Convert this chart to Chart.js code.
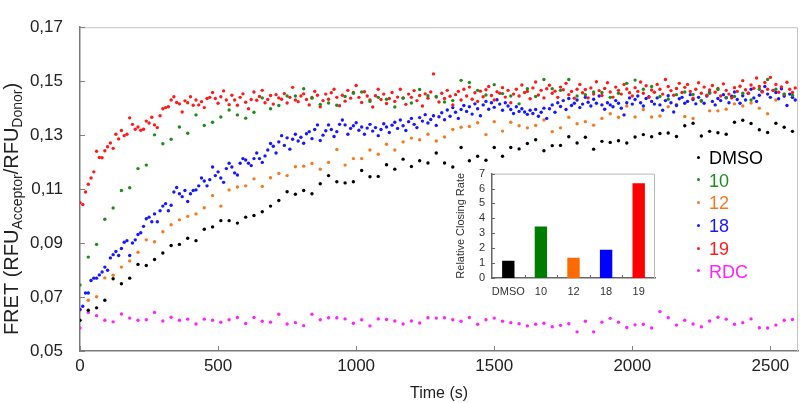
<!DOCTYPE html>
<html>
<head>
<meta charset="utf-8">
<script src="https://cdn.jsdelivr.net/npm/chart.js@4.4.1/dist/chart.umd.min.js"></script>
<style>
  html, body { margin: 0; padding: 0; background: #ffffff; }
  #wrap { position: relative; width: 800px; height: 403px; font-family: "Liberation Sans", Arial, sans-serif; }
  #mainChart { position: absolute; left: 0; top: 0; }
  #insetChart { position: absolute; left: 440px; top: 160px; }
  .lg-row { position: absolute; left: 697px; height: 22px; line-height: 22px; font-size: 18px; white-space: nowrap; }
  .lg-dot { display: inline-block; width: 3px; height: 3px; border-radius: 50%; vertical-align: middle; margin: 0 9px 4px 0; }
</style>
</head>
<body>
<div id="wrap">
  <canvas id="mainChart" width="800" height="403"></canvas>
  <canvas id="insetChart" width="230" height="150"></canvas>
  <div id="legend"></div>
</div>
<script>
// 軸刻度
const xTicks = [0, 500, 1000, 1500, 2000, 2500];
const yTicks = [0.05, 0.07, 0.09, 0.11, 0.13, 0.15, 0.17];

// 每 30 s 量測的系列
const dmso = [
  0.0614, 0.0651, 0.0660, 0.0688, 0.0768, 0.0749, 0.0770, 0.0821, 0.0817, 0.0839,
  0.0863, 0.0891, 0.0895, 0.0918, 0.0909, 0.0951, 0.0960, 0.0983, 0.0983, 0.0974,
  0.0996, 0.1002, 0.1016, 0.1037, 0.1058, 0.1090, 0.1081, 0.1095, 0.1083, 0.1120,
  0.1150, 0.1127, 0.1123, 0.1127, 0.1169, 0.1146, 0.1147, 0.1190, 0.1174, 0.1211,
  0.1184, 0.1205, 0.1197, 0.1234, 0.1197, 0.1182, 0.1254, 0.1205, 0.1222, 0.1207,
  0.1254, 0.1222, 0.1254, 0.1249, 0.1269, 0.1283, 0.1242, 0.1261, 0.1262, 0.1294,
  0.1271, 0.1292, 0.1248, 0.1277, 0.1273, 0.1279, 0.1271, 0.1293, 0.1302, 0.1294,
  0.1306, 0.1308, 0.1295, 0.1335, 0.1344, 0.1297, 0.1314, 0.1309, 0.1303, 0.1348,
  0.1355, 0.1343, 0.1320, 0.1310, 0.1344, 0.1329, 0.1314
];
const cmpd10 = [
  0.0745, 0.0848, 0.0895, 0.0988, 0.1030, 0.1095, 0.1105, 0.1176, 0.1189, 0.1301,
  0.1268, 0.1285, 0.1330, 0.1307, 0.1375, 0.1336, 0.1348, 0.1367, 0.1393, 0.1375,
  0.1363, 0.1385, 0.1438, 0.1398, 0.1410, 0.1445, 0.1445, 0.1472, 0.1437, 0.1414,
  0.1419, 0.1411, 0.1443, 0.1455, 0.1460, 0.1425, 0.1440, 0.1433, 0.1404, 0.1437,
  0.1419, 0.1469, 0.1446, 0.1443, 0.1423, 0.1428, 0.1503, 0.1495, 0.1466, 0.1449,
  0.1487, 0.1454, 0.1445, 0.1416, 0.1472, 0.1443, 0.1506, 0.1472, 0.1466, 0.1506,
  0.1445, 0.1450, 0.1460, 0.1458, 0.1440, 0.1455, 0.1492, 0.1504, 0.1470, 0.1480,
  0.1443, 0.1433, 0.1450, 0.1460, 0.1451, 0.1427, 0.1455, 0.1469, 0.1440, 0.1443,
  0.1455, 0.1430, 0.1470, 0.1506, 0.1470, 0.1452, 0.1448
];
const cmpd12 = [
  0.0652, 0.0688, 0.0701, 0.0771, 0.0781, 0.0811, 0.0834, 0.0866, 0.0912, 0.0905,
  0.0942, 0.0968, 0.0986, 0.0999, 0.1008, 0.1031, 0.1076, 0.1037, 0.1097, 0.1108,
  0.1112, 0.1138, 0.1110, 0.1142, 0.1158, 0.1150, 0.1183, 0.1185, 0.1195, 0.1174,
  0.1199, 0.1247, 0.1189, 0.1213, 0.1213, 0.1245, 0.1229, 0.1266, 0.1245, 0.1275,
  0.1289, 0.1283, 0.1303, 0.1278, 0.1293, 0.1321, 0.1329, 0.1332, 0.1346, 0.1302,
  0.1350, 0.1315, 0.1348, 0.1335, 0.1327, 0.1336, 0.1356, 0.1313, 0.1327, 0.1366,
  0.1342, 0.1350, 0.1337, 0.1362, 0.1379, 0.1366, 0.1408, 0.1367, 0.1395, 0.1367,
  0.1371, 0.1405, 0.1414, 0.1369, 0.1362, 0.1425, 0.1390, 0.1390, 0.1396, 0.1416,
  0.1408, 0.1419, 0.1400, 0.1379, 0.1430, 0.1445, 0.1440
];
const rdc = [
  0.0585, 0.0643, 0.0631, 0.0614, 0.0608, 0.0637, 0.0622, 0.0614, 0.0616, 0.0643,
  0.0611, 0.0625, 0.0614, 0.0618, 0.0600, 0.0618, 0.0614, 0.0607, 0.0616, 0.0624,
  0.0602, 0.0624, 0.0610, 0.0607, 0.0636, 0.0600, 0.0605, 0.0594, 0.0636, 0.0616,
  0.0623, 0.0623, 0.0619, 0.0603, 0.0616, 0.0593, 0.0619, 0.0617, 0.0611, 0.0600,
  0.0611, 0.0604, 0.0623, 0.0622, 0.0623, 0.0616, 0.0610, 0.0624, 0.0599, 0.0616,
  0.0622, 0.0610, 0.0605, 0.0601, 0.0593, 0.0599, 0.0603, 0.0590, 0.0595, 0.0601,
  0.0571, 0.0610, 0.0571, 0.0607, 0.0621, 0.0607, 0.0587, 0.0597, 0.0599, 0.0585,
  0.0646, 0.0623, 0.0596, 0.0614, 0.0600, 0.0590, 0.0611, 0.0625, 0.0618, 0.0599,
  0.0605, 0.0619, 0.0586, 0.0585, 0.0596, 0.0614, 0.0617
];

// 每 10 s 量測的系列
const cmpd18 = [
  0.0654, 0.0666, 0.0715, 0.0715, 0.0761, 0.0770, 0.0770, 0.0782, 0.0793, 0.0811,
  0.0799, 0.0845, 0.0857, 0.0869, 0.0854, 0.0880, 0.0903, 0.0909, 0.0854, 0.0900,
  0.0912, 0.0932, 0.0938, 0.0962, 0.0990, 0.0996, 0.0979, 0.1008, 0.0979, 0.1020,
  0.1037, 0.1046, 0.1020, 0.1040, 0.1089, 0.1106, 0.1083, 0.1072, 0.1095, 0.1054,
  0.1083, 0.1095, 0.1097, 0.1112, 0.1141, 0.1130, 0.1112, 0.1135, 0.1182, 0.1150,
  0.1164, 0.1141, 0.1125, 0.1176, 0.1196, 0.1182, 0.1160, 0.1152, 0.1196, 0.1213,
  0.1208, 0.1196, 0.1187, 0.1213, 0.1234, 0.1213, 0.1199, 0.1223, 0.1245, 0.1269,
  0.1259, 0.1234, 0.1275, 0.1298, 0.1262, 0.1290, 0.1248, 0.1285, 0.1303, 0.1278,
  0.1292, 0.1270, 0.1305, 0.1313, 0.1287, 0.1321, 0.1338, 0.1280, 0.1300, 0.1316,
  0.1338, 0.1321, 0.1295, 0.1313, 0.1340, 0.1356, 0.1338, 0.1303, 0.1325, 0.1335,
  0.1346, 0.1318, 0.1330, 0.1303, 0.1326, 0.1340, 0.1315, 0.1328, 0.1298, 0.1321,
  0.1342, 0.1330, 0.1310, 0.1337, 0.1348, 0.1325, 0.1356, 0.1335, 0.1317, 0.1350,
  0.1362, 0.1340, 0.1328, 0.1365, 0.1352, 0.1376, 0.1345, 0.1358, 0.1372, 0.1336,
  0.1368, 0.1383, 0.1357, 0.1393, 0.1370, 0.1402, 0.1385, 0.1362, 0.1395, 0.1410,
  0.1388, 0.1405, 0.1378, 0.1416, 0.1398, 0.1372, 0.1412, 0.1425, 0.1396, 0.1420,
  0.1403, 0.1431, 0.1415, 0.1392, 0.1420, 0.1408, 0.1395, 0.1380, 0.1405, 0.1388,
  0.1398, 0.1386, 0.1377, 0.1392, 0.1380, 0.1395, 0.1370, 0.1385, 0.1400, 0.1362,
  0.1398, 0.1412, 0.1385, 0.1420, 0.1406, 0.1428, 0.1395, 0.1436, 0.1410, 0.1418,
  0.1430, 0.1402, 0.1415, 0.1440, 0.1422, 0.1408, 0.1433, 0.1418, 0.1445, 0.1412,
  0.1396, 0.1420, 0.1412, 0.1405, 0.1428, 0.1418, 0.1400, 0.1375, 0.1420, 0.1438,
  0.1415, 0.1432, 0.1445, 0.1420, 0.1408, 0.1436, 0.1442, 0.1425, 0.1415, 0.1438,
  0.1412, 0.1392, 0.1428, 0.1446, 0.1420, 0.1386, 0.1410, 0.1435, 0.1440, 0.1418,
  0.1425, 0.1450, 0.1432, 0.1416, 0.1440, 0.1428, 0.1418, 0.1445, 0.1458, 0.1425,
  0.1412, 0.1436, 0.1428, 0.1450, 0.1438, 0.1420, 0.1444, 0.1460, 0.1432, 0.1418,
  0.1446, 0.1430, 0.1455, 0.1470, 0.1438, 0.1425, 0.1448, 0.1462, 0.1480, 0.1452,
  0.1440, 0.1466, 0.1458, 0.1435, 0.1472, 0.1445, 0.1410, 0.1452, 0.1440, 0.1430
];
const cmpd19 = [
  0.1050, 0.1043, 0.1089, 0.1118, 0.1141, 0.1164, 0.1240, 0.1217, 0.1216, 0.1242,
  0.1257, 0.1271, 0.1251, 0.1303, 0.1286, 0.1317, 0.1298, 0.1303, 0.1364, 0.1340,
  0.1322, 0.1330, 0.1318, 0.1322, 0.1352, 0.1345, 0.1366, 0.1338, 0.1328, 0.1372,
  0.1398, 0.1402, 0.1405, 0.1430, 0.1442, 0.1421, 0.1416, 0.1386, 0.1427, 0.1420,
  0.1442, 0.1411, 0.1430, 0.1412, 0.1424, 0.1402, 0.1436, 0.1440, 0.1458, 0.1436,
  0.1418, 0.1442, 0.1464, 0.1430, 0.1413, 0.1448, 0.1430, 0.1411, 0.1440, 0.1453,
  0.1422, 0.1398, 0.1432, 0.1460, 0.1429, 0.1443, 0.1466, 0.1420, 0.1432, 0.1447,
  0.1415, 0.1450, 0.1438, 0.1433, 0.1454, 0.1419, 0.1440, 0.1477, 0.1430, 0.1424,
  0.1445, 0.1453, 0.1432, 0.1412, 0.1440, 0.1462, 0.1448, 0.1405, 0.1428, 0.1452,
  0.1433, 0.1457, 0.1470, 0.1440, 0.1409, 0.1448, 0.1426, 0.1466, 0.1437, 0.1458,
  0.1484, 0.1440, 0.1421, 0.1461, 0.1445, 0.1430, 0.1404, 0.1446, 0.1470, 0.1432,
  0.1452, 0.1417, 0.1436, 0.1458, 0.1425, 0.1441, 0.1470, 0.1438, 0.1414, 0.1452,
  0.1440, 0.1465, 0.1428, 0.1447, 0.1408, 0.1453, 0.1437, 0.1460, 0.1527, 0.1441,
  0.1423, 0.1455, 0.1436, 0.1466, 0.1444, 0.1412, 0.1450, 0.1462, 0.1430, 0.1470,
  0.1445, 0.1478, 0.1433, 0.1457, 0.1425, 0.1463, 0.1442, 0.1468, 0.1480, 0.1447,
  0.1430, 0.1461, 0.1455, 0.1476, 0.1441, 0.1466, 0.1420, 0.1452, 0.1470, 0.1445,
  0.1486, 0.1458, 0.1462, 0.1435, 0.1475, 0.1497, 0.1449, 0.1466, 0.1438, 0.1472,
  0.1485, 0.1455, 0.1463, 0.1440, 0.1478, 0.1468, 0.1492, 0.1450, 0.1462, 0.1437,
  0.1470, 0.1488, 0.1457, 0.1469, 0.1438, 0.1475, 0.1452, 0.1498, 0.1465, 0.1447,
  0.1473, 0.1494, 0.1460, 0.1441, 0.1478, 0.1466, 0.1452, 0.1488, 0.1471, 0.1457,
  0.1445, 0.1476, 0.1462, 0.1497, 0.1455, 0.1483, 0.1440, 0.1467, 0.1459, 0.1488,
  0.1470, 0.1452, 0.1506, 0.1480, 0.1465, 0.1448, 0.1473, 0.1492, 0.1458, 0.1477,
  0.1488, 0.1462, 0.1437, 0.1470, 0.1494, 0.1455, 0.1478, 0.1448, 0.1467, 0.1484,
  0.1459, 0.1473, 0.1445, 0.1490, 0.1466, 0.1452, 0.1438, 0.1476, 0.1462, 0.1481,
  0.1502, 0.1468, 0.1455, 0.1486, 0.1474, 0.1512, 0.1480, 0.1460, 0.1495, 0.1470,
  0.1514, 0.1466, 0.1488, 0.1459, 0.1479, 0.1452, 0.1496, 0.1470, 0.1458, 0.1475
];

// 插圖：相對關閉速率
const insetLabels = ["DMSO", "10", "12", "18", "19"];
const insetRates = [1.15, 3.45, 1.35, 1.9, 6.35];
const insetTicks = [0, 1, 2, 3, 4, 5, 6, 7];

// 色彩
const colors = {
  dmso: "#000000",
  c10: "#1f8a1f",
  c12: "#f47a22",
  c18: "#1717ff",
  c19: "#ff1a1a",
  rdc: "#ff22ff",
};
const barColors = ["#000000", "#007d00", "#ff6a00", "#0000ff", "#ff0000"];

const FONT = '"Liberation Sans", Arial, sans-serif';

function toPoints(values, step){
  return values.map((v, i) => ({ x: i * step, y: v }));
}

function ds(label, values, step, color){
  return {
    label: label,
    data: toPoints(values, step),
    backgroundColor: color,
    borderWidth: 0,
    pointRadius: 1.7,
    pointHoverRadius: 1.7,
  };
}

// 外框、內向刻度與 y 軸標題（含下標）
const framePlugin = {
  id: "frame",
  afterDraw(chart){
    const { ctx, chartArea: a, scales } = chart;
    const x = scales.x, y = scales.y;
    ctx.save();
    ctx.strokeStyle = "#c4c4c4";
    ctx.lineWidth = 1;
    ctx.beginPath();
    ctx.moveTo(a.left, a.top + 0.5);
    ctx.lineTo(a.right - 0.5, a.top + 0.5);
    ctx.lineTo(a.right - 0.5, a.bottom);
    ctx.stroke();

    ctx.strokeStyle = "#808080";
    ctx.beginPath();
    xTicks.forEach(v => {
      const px = Math.round(x.getPixelForValue(v)) + 0.5;
      ctx.moveTo(px, a.bottom);
      ctx.lineTo(px, a.bottom - 5);
    });
    yTicks.forEach(v => {
      const py = Math.round(y.getPixelForValue(v)) + 0.5;
      ctx.moveTo(a.left, py);
      ctx.lineTo(a.left + 5, py);
    });
    ctx.stroke();

    // y 軸標題
    const parts = [
      { t: "FRET (RFU", size: 20, sub: false },
      { t: "Acceptor", size: 14, sub: true },
      { t: "/RFU", size: 20, sub: false },
      { t: "Donor", size: 14, sub: true },
      { t: ")", size: 20, sub: false },
    ];
    let total = 0;
    parts.forEach(p => {
      ctx.font = p.size + "px " + FONT;
      p.w = ctx.measureText(p.t).width;
      total += p.w;
    });
    ctx.translate(0, 209);
    ctx.rotate(-Math.PI / 2);
    ctx.fillStyle = "#222222";
    ctx.textBaseline = "alphabetic";
    ctx.textAlign = "left";
    let cx = -total / 2;
    parts.forEach(p => {
      ctx.font = p.size + "px " + FONT;
      ctx.fillText(p.t, cx, p.sub ? 22 : 18);
      cx += p.w;
    });
    ctx.restore();
  },
};

new Chart(document.getElementById("mainChart"), {
  type: "scatter",
  data: {
    datasets: [
      ds("10", cmpd10, 30, colors.c10),
      ds("19", cmpd19, 10, colors.c19),
      ds("18", cmpd18, 10, colors.c18),
      ds("12", cmpd12, 30, colors.c12),
      ds("DMSO", dmso, 30, colors.dmso),
      ds("RDC", rdc, 30, colors.rdc),
    ],
  },
  options: {
    responsive: false,
    animation: false,
    devicePixelRatio: 1,
    layout: { padding: { top: 7, right: 2, left: 0, bottom: 0 } },
    plugins: {
      legend: { display: false },
      tooltip: { enabled: false },
    },
    scales: {
      x: {
        type: "linear",
        min: 0,
        max: 2600,
        afterBuildTicks: s => { s.ticks = xTicks.map(v => ({ value: v })); },
        afterFit: s => { s.height = 52; },
        grid: { display: false, drawTicks: false },
        border: { display: true, color: "#7a7a7a", width: 1.5 },
        ticks: {
          color: "#222222",
          font: { family: FONT, size: 17 },
          padding: 5,
          maxRotation: 0,
          autoSkip: false,
          callback: v => String(v),
        },
        title: { display: true, text: "Time (s)", color: "#222222", font: { family: FONT, size: 16 }, padding: { top: 5, bottom: 0 } },
      },
      y: {
        type: "linear",
        min: 0.05,
        max: 0.17,
        afterBuildTicks: s => { s.ticks = yTicks.map(v => ({ value: v })); },
        afterFit: s => { s.width = 80; },
        grid: { display: false, drawTicks: false },
        border: { display: true, color: "#7a7a7a", width: 1.5 },
        ticks: {
          color: "#222222",
          font: { family: FONT, size: 17 },
          padding: 17,
          autoSkip: false,
          callback: v => v.toFixed(2).replace(".", ","),
        },
      },
    },
  },
  plugins: [framePlugin],
});

// 插圖外框與刻度
const insetFrame = {
  id: "insetFrame",
  afterDraw(chart){
    const { ctx, chartArea: a, scales } = chart;
    ctx.save();
    ctx.strokeStyle = "#b8b8b8";
    ctx.lineWidth = 1;
    ctx.beginPath();
    ctx.moveTo(a.left, a.top + 0.5);
    ctx.lineTo(a.right - 0.5, a.top + 0.5);
    ctx.lineTo(a.right - 0.5, a.bottom);
    ctx.stroke();
    ctx.strokeStyle = "#666666";
    ctx.beginPath();
    insetTicks.forEach(v => {
      const py = Math.round(scales.y.getPixelForValue(v)) + 0.5;
      ctx.moveTo(a.left, py);
      ctx.lineTo(a.left + 3, py);
    });
    const step = (a.right - a.left) / insetLabels.length;
    for (let i = 1; i < insetLabels.length; i++) {
      const px = Math.round(a.left + step * i) + 0.5;
      ctx.moveTo(px, a.bottom);
      ctx.lineTo(px, a.bottom - 3);
    }
    ctx.stroke();
    ctx.restore();
  },
};

new Chart(document.getElementById("insetChart"), {
  type: "bar",
  data: {
    labels: insetLabels,
    datasets: [{
      data: insetRates,
      backgroundColor: barColors,
      borderWidth: 0,
      categoryPercentage: 1,
      barPercentage: 0.38,
    }],
  },
  options: {
    responsive: false,
    animation: false,
    devicePixelRatio: 1,
    layout: { padding: { top: 10, right: 15, left: 0, bottom: 0 } },
    plugins: { legend: { display: false }, tooltip: { enabled: false } },
    scales: {
      x: {
        afterFit: s => { s.height = 32; },
        grid: { display: false, drawTicks: false },
        border: { display: true, color: "#666666", width: 1.5 },
        ticks: { color: "#333333", font: { family: FONT, size: 11 }, padding: 7, maxRotation: 0, minRotation: 0, autoSkip: false },
      },
      y: {
        min: 0,
        max: 7,
        afterBuildTicks: s => { s.ticks = insetTicks.map(v => ({ value: v })); },
        afterFit: s => { s.width = 52; },
        grid: { display: false, drawTicks: false },
        border: { display: true, color: "#666666", width: 1.5 },
        ticks: { color: "#333333", font: { family: FONT, size: 11 }, padding: 7, autoSkip: false },
        title: { display: true, text: "Relative Closing Rate", color: "#333333", font: { family: FONT, size: 11 }, padding: { top: 14, bottom: 0 } },
      },
    },
  },
  plugins: [insetFrame],
});

// 圖例
const legendNames = ["DMSO", "10", "12", "18", "19", "RDC"];
const legendColors = [colors.dmso, colors.c10, colors.c12, colors.c18, colors.c19, colors.rdc];
const legend = document.getElementById("legend");
legendNames.forEach((name, i) => {
  const row = document.createElement("div");
  row.className = "lg-row";
  row.style.top = (147 + i * 22.7) + "px";
  row.style.color = legendColors[i];
  const dot = document.createElement("span");
  dot.className = "lg-dot";
  dot.style.background = legendColors[i];
  row.appendChild(dot);
  row.appendChild(document.createTextNode(name));
  legend.appendChild(row);
});
</script>
</body>
</html>
